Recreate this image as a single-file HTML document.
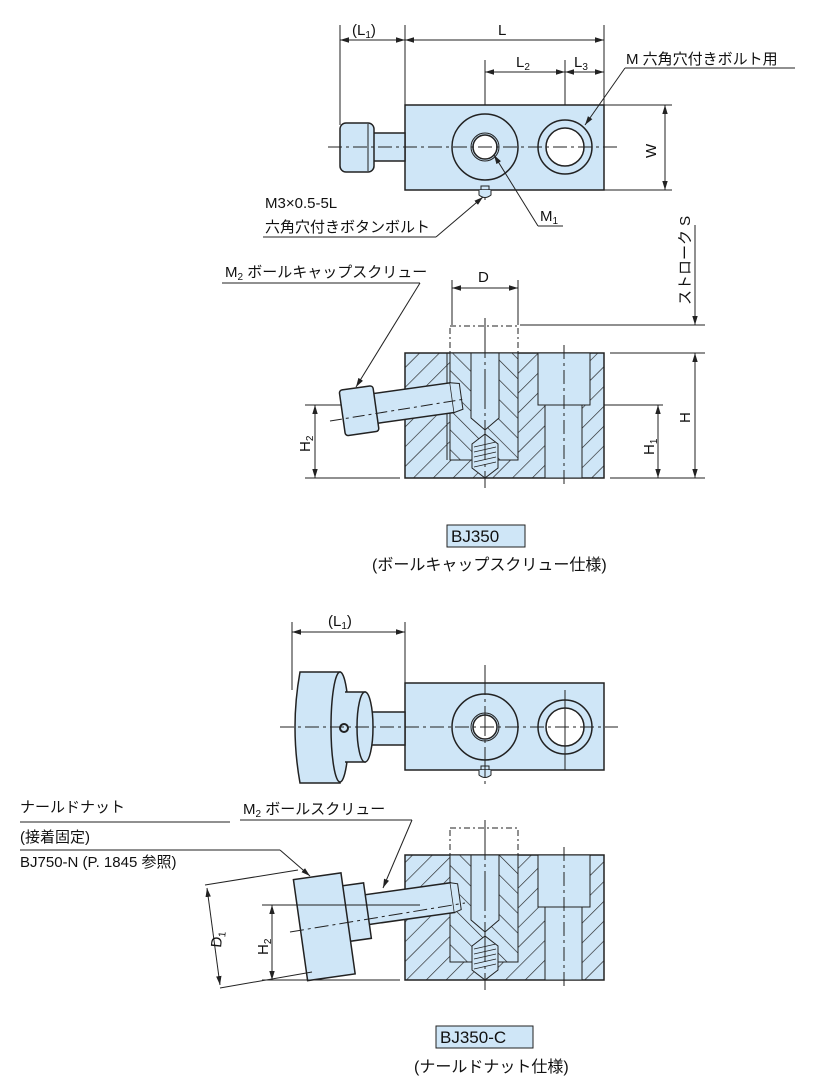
<!DOCTYPE html>
<html><head><meta charset="utf-8"><style>
html,body{margin:0;padding:0;background:#fff}
svg{display:block}
text{font-family:"Liberation Sans","Noto Sans CJK JP",sans-serif;fill:#111}
</style></head><body>
<svg width="817" height="1085" viewBox="0 0 817 1085" xmlns="http://www.w3.org/2000/svg">
<defs>
<pattern id="hA" width="14" height="14" patternUnits="userSpaceOnUse" patternTransform="rotate(45)">
<rect width="14" height="14" fill="#cfe6f7"/><line x1="0" y1="0" x2="0" y2="14" stroke="#222" stroke-width="1.3"/></pattern>
<pattern id="hB" width="14" height="14" patternUnits="userSpaceOnUse" patternTransform="rotate(-45)">
<rect width="14" height="14" fill="#cfe6f7"/><line x1="0" y1="0" x2="0" y2="14" stroke="#222" stroke-width="1.3"/></pattern>
<marker id="ar" viewBox="0 0 10 10" refX="10" refY="5" markerWidth="9" markerHeight="9" orient="auto-start-reverse"><path d="M0,2 L10,5 L0,8 z" fill="#222"/></marker>
</defs>
<g stroke="#222" stroke-width="1" fill="none">
<!-- ===== TOP PLAN VIEW ===== -->
<line x1="340" y1="25" x2="340" y2="125"/><line x1="405" y1="25" x2="405" y2="105"/><line x1="604" y1="25" x2="604" y2="105"/>
<line x1="485" y1="60" x2="485" y2="200"/><line x1="565" y1="60" x2="565" y2="190"/>
<line x1="340" y1="40" x2="405" y2="40" marker-start="url(#ar)" marker-end="url(#ar)"/>
<line x1="405" y1="40" x2="604" y2="40" marker-start="url(#ar)" marker-end="url(#ar)"/>
<line x1="485" y1="72" x2="565" y2="72" marker-start="url(#ar)" marker-end="url(#ar)"/>
<line x1="565" y1="72" x2="604" y2="72" marker-start="url(#ar)" marker-end="url(#ar)"/>
<line x1="604" y1="105" x2="672" y2="105"/><line x1="604" y1="190" x2="672" y2="190"/>
<line x1="665" y1="105" x2="665" y2="190" marker-start="url(#ar)" marker-end="url(#ar)"/>
<rect x="405" y="105" width="199" height="85" fill="#cfe6f7" stroke-width="1.5"/>
<rect x="373" y="133" width="32" height="28" fill="#cfe6f7" stroke-width="1.5"/>
<rect x="340" y="123" width="34" height="49" rx="6" fill="#cfe6f7" stroke-width="1.5"/>
<line x1="368" y1="124" x2="368" y2="171"/>
<circle cx="485" cy="147" r="33" stroke-width="1.5"/>
<circle cx="485" cy="147" r="14"/><circle cx="485" cy="147" r="12" fill="#fff" stroke-width="1.5"/>
<circle cx="565" cy="147" r="27" stroke-width="1.5"/><circle cx="565" cy="147" r="19" fill="#fff" stroke-width="1.5"/>
<rect x="481" y="186" width="8" height="4"/>
<path d="M479,190 L479,195 Q485,200 491,195 L491,190" fill="#cfe6f7"/>
<line x1="328" y1="147" x2="618" y2="147" stroke-dasharray="14,4,3,4"/>
<line x1="585" y1="125" x2="625" y2="68" marker-start="url(#ar)"/><line x1="625" y1="68" x2="795" y2="68"/>
<line x1="483" y1="197" x2="436" y2="237" marker-start="url(#ar)"/><line x1="263" y1="237" x2="436" y2="237"/>
<line x1="494" y1="155" x2="538" y2="226" marker-start="url(#ar)"/><line x1="538" y1="226" x2="563" y2="226"/>
<!-- ===== SECTION 1 ===== -->
<line x1="452" y1="280" x2="452" y2="325"/><line x1="518" y1="280" x2="518" y2="325"/>
<line x1="452" y1="288" x2="518" y2="288" marker-start="url(#ar)" marker-end="url(#ar)"/>
<line x1="695" y1="225" x2="695" y2="325" marker-end="url(#ar)"/>
<line x1="520" y1="325" x2="705" y2="325"/><line x1="610" y1="353" x2="705" y2="353"/><line x1="610" y1="478" x2="705" y2="478"/>
<line x1="695" y1="353" x2="695" y2="478" marker-start="url(#ar)" marker-end="url(#ar)"/>
<line x1="600" y1="405" x2="663" y2="405"/>
<line x1="658" y1="405" x2="658" y2="478" marker-start="url(#ar)" marker-end="url(#ar)"/>
<line x1="305" y1="405" x2="345" y2="405"/><line x1="305" y1="478" x2="400" y2="478"/>
<line x1="315" y1="405" x2="315" y2="478" marker-start="url(#ar)" marker-end="url(#ar)"/>
<rect x="450" y="326" width="68" height="27" stroke-dasharray="6,3,2,3"/>
<rect x="405" y="353" width="199" height="125" fill="url(#hA)" stroke-width="1.5"/>
<path d="M450,353 H518 V460 H450 Z" fill="url(#hB)"/>
<rect x="538" y="353" width="52" height="52" fill="#cfe6f7"/>
<rect x="545" y="405" width="37" height="73" fill="#cfe6f7"/>
<path d="M538,353 V405 H545 V478 M582,478 V405 H590 V353"/>
<path d="M471,353 H499 V418 L485,430 L471,418 Z" fill="#cfe6f7"/>
<path d="M472,444 L485,434 L498,444 V468 L485,478 L472,468 Z" fill="#cfe6f7"/>
<g stroke-width="0.8"><line x1="474" y1="447" x2="496" y2="442"/><line x1="474" y1="452" x2="496" y2="447"/><line x1="474" y1="457" x2="496" y2="452"/><line x1="474" y1="462" x2="496" y2="457"/><line x1="474" y1="467" x2="496" y2="462"/></g>
<path d="M447,353 L447,460" />
<g transform="rotate(-8 400 407)">
<rect x="375" y="390" width="78" height="30" fill="#cfe6f7" stroke-width="1.5"/>
<rect x="342" y="382" width="34" height="46" rx="3" fill="#cfe6f7" stroke-width="1.5"/>
<path d="M453,390 L462,392 L462,418 L453,420" fill="#cfe6f7"/>
</g>
<line x1="330" y1="421" x2="465" y2="399" stroke-dasharray="12,4,3,4"/>
<line x1="485" y1="318" x2="485" y2="488" stroke-dasharray="40,4,3,4"/>
<line x1="564" y1="345" x2="564" y2="488" stroke-dasharray="14,4,3,4"/>
<line x1="356" y1="387" x2="420" y2="283" marker-start="url(#ar)"/><line x1="222" y1="283" x2="420" y2="283"/>
<!-- ===== PLAN 2 ===== -->
<line x1="292" y1="622" x2="292" y2="690"/><line x1="405" y1="622" x2="405" y2="683"/>
<line x1="292" y1="632" x2="405" y2="632" marker-start="url(#ar)" marker-end="url(#ar)"/>
<rect x="405" y="683" width="199" height="87" fill="#cfe6f7" stroke-width="1.5"/>
<rect x="370" y="712" width="35" height="33" fill="#cfe6f7" stroke-width="1.5"/>
<path d="M300,672 H340 V783 H300 Q290,727 300,672 Z" fill="#cfe6f7" stroke-width="1.5"/>
<ellipse cx="340" cy="727" rx="9" ry="55" fill="#cfe6f7" stroke-width="1.5"/>
<path d="M345,692 H365 V762 H345" fill="#cfe6f7" stroke-width="1.5"/>
<ellipse cx="365" cy="727" rx="8" ry="35" fill="#cfe6f7" stroke-width="1.5"/>
<circle cx="344" cy="728" r="4" stroke-width="2"/>
<circle cx="485" cy="727" r="33" stroke-width="1.5"/>
<circle cx="485" cy="727" r="14"/><circle cx="485" cy="727" r="12" fill="#fff" stroke-width="1.5"/>
<circle cx="565" cy="727" r="27" stroke-width="1.5"/><circle cx="565" cy="727" r="19" fill="#fff" stroke-width="1.5"/>
<rect x="481" y="766" width="8" height="4"/>
<path d="M479,770 L479,775 Q485,780 491,775 L491,770" fill="#cfe6f7"/>
<line x1="280" y1="727" x2="618" y2="727" stroke-dasharray="14,4,3,4"/>
<line x1="485" y1="665" x2="485" y2="785" stroke-dasharray="30,4,3,4"/>
<line x1="565" y1="690" x2="565" y2="770"/>
<!-- ===== SECTION 2 ===== -->
<rect x="450" y="828" width="68" height="27" stroke-dasharray="6,3,2,3"/>
<rect x="405" y="855" width="199" height="125" fill="url(#hA)" stroke-width="1.5"/>
<path d="M450,855 H518 V962 H450 Z" fill="url(#hB)"/>
<rect x="538" y="855" width="52" height="52" fill="#cfe6f7"/>
<rect x="545" y="907" width="37" height="73" fill="#cfe6f7"/>
<path d="M538,855 V907 H545 V980 M582,980 V907 H590 V855"/>
<path d="M471,855 H499 V920 L485,932 L471,920 Z" fill="#cfe6f7"/>
<path d="M472,946 L485,936 L498,946 V970 L485,980 L472,970 Z" fill="#cfe6f7"/>
<g stroke-width="0.8"><line x1="474" y1="949" x2="496" y2="944"/><line x1="474" y1="954" x2="496" y2="949"/><line x1="474" y1="959" x2="496" y2="954"/><line x1="474" y1="964" x2="496" y2="959"/><line x1="474" y1="969" x2="496" y2="964"/></g>
<g transform="rotate(-8 400 905)">
<rect x="365" y="890" width="88" height="30" fill="#cfe6f7" stroke-width="1.5"/>
<rect x="345" y="878" width="22" height="56" fill="#cfe6f7" stroke-width="1.5"/>
<rect x="298" y="865" width="48" height="102" fill="#cfe6f7" stroke-width="1.5"/>
<path d="M453,890 L460,892 L460,918 L453,920" fill="#cfe6f7"/>
</g>
<line x1="290" y1="932" x2="465" y2="903" stroke-dasharray="14,4,3,4"/>
<line x1="485" y1="820" x2="485" y2="990" stroke-dasharray="40,4,3,4"/>
<line x1="564" y1="847" x2="564" y2="990" stroke-dasharray="14,4,3,4"/>
<line x1="262" y1="905" x2="420" y2="905"/><line x1="262" y1="980" x2="400" y2="980"/>
<line x1="272" y1="905" x2="272" y2="980" marker-start="url(#ar)" marker-end="url(#ar)"/>
<line x1="205" y1="885" x2="298" y2="870"/><line x1="220" y1="988" x2="312" y2="972"/>
<line x1="207" y1="888" x2="220" y2="985" marker-start="url(#ar)" marker-end="url(#ar)"/>
<line x1="383" y1="888" x2="412" y2="820" marker-start="url(#ar)"/><line x1="240" y1="820" x2="412" y2="820"/>
<line x1="310" y1="876" x2="280" y2="850" marker-start="url(#ar)"/><line x1="20" y1="850" x2="280" y2="850"/>
<line x1="20" y1="822" x2="230" y2="822"/>
</g>
<!-- TEXT -->
<g font-size="15">
<text x="352" y="35">(L<tspan font-size="10" dy="3">1</tspan><tspan dy="-3">)</tspan></text>
<text x="498" y="35">L</text>
<text x="516" y="67">L<tspan font-size="10" dy="3">2</tspan></text>
<text x="574" y="67">L<tspan font-size="10" dy="3">3</tspan></text>
<text x="626" y="64">M 六角穴付きボルト用</text>
<text transform="translate(656,158) rotate(-90)">W</text>
<text x="265" y="208">M3×0.5-5L</text>
<text x="265" y="232">六角穴付きボタンボルト</text>
<text x="540" y="221">M<tspan font-size="10" dy="3">1</tspan></text>
<text x="225" y="277">M<tspan font-size="10" dy="3">2</tspan><tspan dy="-3"> ボールキャップスクリュー</tspan></text>
<text x="478" y="282">D</text>
<text transform="translate(690,305) rotate(-90)">ストローク S</text>
<text transform="translate(690,423) rotate(-90)">H</text>
<text transform="translate(654,455) rotate(-90)">H<tspan font-size="10" dy="3">1</tspan></text>
<text transform="translate(310,452) rotate(-90)">H<tspan font-size="10" dy="3">2</tspan></text>
<rect x="447" y="525" width="78" height="22" fill="#cfe6f7" stroke="#222"/>
<text x="451" y="542" font-size="17">BJ350</text>
<text x="372" y="570" font-size="16">(ボールキャップスクリュー仕様)</text>
<text x="328" y="626">(L<tspan font-size="10" dy="3">1</tspan><tspan dy="-3">)</tspan></text>
<text x="20" y="812">ナールドナット</text>
<text x="20" y="842">(接着固定)</text>
<text x="20" y="867">BJ750-N (P. 1845 参照)</text>
<text x="243" y="814">M<tspan font-size="10" dy="3">2</tspan><tspan dy="-3"> ボールスクリュー</tspan></text>
<text transform="translate(268,955) rotate(-90)">H<tspan font-size="10" dy="3">2</tspan></text>
<text transform="translate(221,948) rotate(-84)">D<tspan font-size="10" dy="3">1</tspan></text>
<rect x="436" y="1026" width="97" height="22" fill="#cfe6f7" stroke="#222"/>
<text x="440" y="1043" font-size="17">BJ350-C</text>
<text x="414" y="1072" font-size="16">(ナールドナット仕様)</text>
</g>
</svg>
</body></html>
